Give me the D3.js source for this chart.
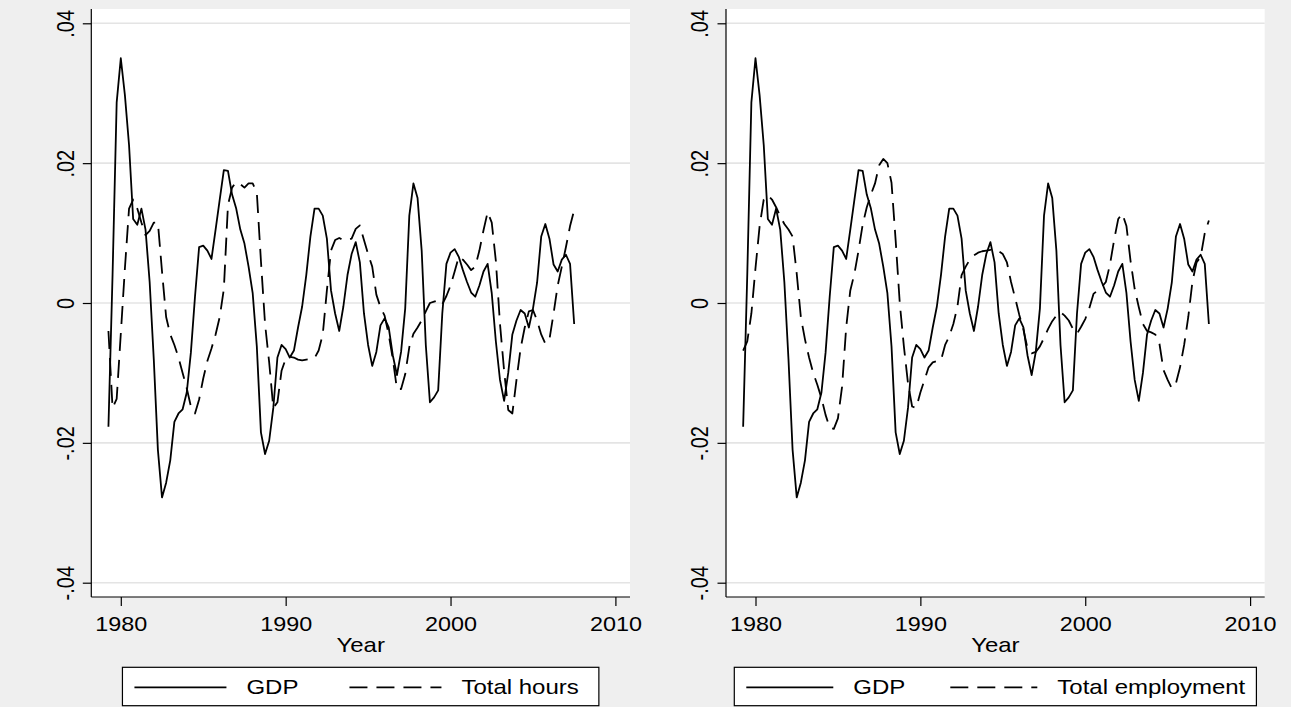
<!DOCTYPE html>
<html><head><meta charset="utf-8">
<script src="https://cdn.jsdelivr.net/npm/d3@7"></script>
<style>body{margin:0;background:#efefef;} svg{display:block;}</style>
</head><body>
<svg id="chart" width="1291" height="707"></svg>
<script>
// ---- data (quarterly) ----
const startYear = 1979.25;   // first quarter in the sample
const quarterStep = 0.25;
const gdp = [-0.0177,0.0040,0.0287,0.0350,0.0297,0.0226,0.0120,0.0112,0.0135,0.0105,
 0.0030,-0.0080,-0.0210,-0.0278,-0.0257,-0.0225,-0.0170,-0.0158,-0.0152,-0.0128,
 -0.0071,0.0009,0.0080,0.0082,0.0075,0.0063,0.0105,0.0148,0.0190,0.0189,
 0.0155,0.0135,0.0105,0.0085,0.0052,0.0014,-0.0062,-0.0185,-0.0216,-0.0197,
 -0.0150,-0.0078,-0.0060,-0.0066,-0.0078,-0.0068,-0.0035,-0.0005,0.0040,0.0095,
 0.0135,0.0135,0.0125,0.0092,0.0018,-0.0015,-0.0040,-0.0005,0.0040,0.0070,
 0.0087,0.0058,-0.0015,-0.0060,-0.0090,-0.0070,-0.0032,-0.0022,-0.0035,-0.0075,
 -0.0103,-0.0070,-0.0008,0.0125,0.0171,0.0150,0.0075,-0.0060,-0.0142,-0.0135,
 -0.0125,-0.0015,0.0056,0.0072,0.0077,0.0066,0.0047,0.0030,0.0015,0.0009,
 0.0025,0.0045,0.0056,0.0014,-0.0055,-0.0110,-0.0140,-0.0100,-0.0045,-0.0025,
 -0.0010,-0.0015,-0.0035,-0.0008,0.0029,0.0095,0.0113,0.0092,0.0055,0.0045,
 0.0062,0.0069,0.0056,-0.0030];
const hours = [-0.0040,-0.0150,-0.0137,-0.0044,0.0050,0.0135,0.0148,0.0135,0.0115,0.0097,
 0.0103,0.0115,0.0115,0.0045,-0.0020,-0.0045,-0.0060,-0.0078,-0.0100,-0.0122,
 -0.0148,-0.0158,-0.0138,-0.0108,-0.0083,-0.0065,-0.0045,-0.0020,0.0020,0.0140,
 0.0165,0.0173,0.0170,0.0165,0.0171,0.0171,0.0158,0.0060,-0.0030,-0.0085,
 -0.0150,-0.0142,-0.0097,-0.0080,-0.0077,-0.0078,-0.0081,-0.0082,-0.0081,-0.0080,
 -0.0079,-0.0068,-0.0045,0.0018,0.0075,0.0090,0.0093,0.0090,0.0090,0.0092,
 0.0106,0.0111,0.0090,0.0070,0.0052,0.0012,-0.0006,-0.0018,-0.0045,-0.0080,
 -0.0123,-0.0123,-0.0102,-0.0063,-0.0044,-0.0035,-0.0025,-0.0012,0.0000,0.0002,
 0.0004,-0.0002,0.0010,0.0025,0.0045,0.0066,0.0062,0.0055,0.0047,0.0052,
 0.0075,0.0104,0.0130,0.0115,0.0060,-0.0030,-0.0097,-0.0153,-0.0158,-0.0110,
 -0.0065,-0.0035,-0.0012,-0.0010,-0.0025,-0.0045,-0.0058,-0.0052,-0.0015,0.0025,
 0.0052,0.0080,0.0110,0.0133];
const employment = [-0.0068,-0.0055,-0.0015,0.0050,0.0110,0.0148,0.0154,0.0148,0.0137,0.0124,
 0.0113,0.0105,0.0095,0.0042,-0.0020,-0.0052,-0.0078,-0.0100,-0.0117,-0.0136,
 -0.0160,-0.0178,-0.0180,-0.0165,-0.0120,-0.0035,0.0018,0.0042,0.0075,0.0112,
 0.0137,0.0155,0.0171,0.0197,0.0206,0.0200,0.0172,0.0090,0.0000,-0.0062,
 -0.0115,-0.0148,-0.0150,-0.0128,-0.0110,-0.0092,-0.0085,-0.0083,-0.0082,-0.0060,
 -0.0048,-0.0030,-0.0005,0.0040,0.0052,0.0062,0.0068,0.0072,0.0074,0.0075,
 0.0076,0.0076,0.0074,0.0070,0.0058,0.0030,0.0007,-0.0017,-0.0038,-0.0065,
 -0.0072,-0.0070,-0.0062,-0.0050,-0.0037,-0.0026,-0.0018,-0.0013,-0.0018,-0.0025,
 -0.0037,-0.0044,-0.0034,-0.0023,-0.0007,0.0013,0.0018,0.0023,0.0030,0.0055,
 0.0090,0.0120,0.0128,0.0110,0.0060,0.0020,-0.0006,-0.0030,-0.0040,-0.0042,
 -0.0045,-0.0058,-0.0096,-0.0110,-0.0122,-0.0115,-0.0092,-0.0060,-0.0020,0.0030,
 0.0058,0.0066,0.0100,0.0118];
const yTicks = [-0.04, -0.02, 0, 0.02, 0.04];
const yTickLabels = ["-.04", "-.02", "0", ".02", ".04"];
const xTicks = [1980, 1990, 2000, 2010];
const xTitle = "Year";
const seriesNames = ["GDP", "Total hours", "Total employment"];

// ---- layout ----
const svg = d3.select("#chart");
const FONT = "'Liberation Sans', Arial, Helvetica, sans-serif";
const FS = 20, SX = 1.2;          // text is slightly stretched horizontally
const plotTop = 9, plotBottom = 597, plotW = 538.7;
const years = gdp.map((_, i) => startYear + i * quarterStep);

svg.append("rect").attr("width", 1291).attr("height", 707).attr("fill", "#efefef");

const panels = [
  {left: 91.3, other: hours, otherName: seriesNames[1], sample: 92, colGap: 51, padR: 20},
  {left: 726, other: employment, otherName: seriesNames[2], sample: 87, colGap: 45, padR: 11}
];

panels.forEach(p => {
  const L = p.left, R = L + plotW;
  const x = d3.scaleLinear().domain([1980, 2010]).range([L + 29.5, L + 29.5 + 494.6]);
  const y = d3.scaleLinear().domain([-0.04, 0.04]).range([582.7, 23.3]);
  const g = svg.append("g");

  g.append("rect").attr("x", L).attr("y", plotTop).attr("width", plotW)
    .attr("height", plotBottom - plotTop).attr("fill", "#ffffff");

  // grid
  g.append("g").selectAll("line").data(yTicks).join("line")
    .attr("x1", L).attr("x2", R).attr("y1", d => y(d)).attr("y2", d => y(d))
    .attr("stroke", "#e4e4e4").attr("stroke-width", 1.6);

  // series
  const line = vals => d3.line().x((d, i) => x(years[i])).y(d => y(d))(vals);
  g.append("path").attr("d", line(p.other)).attr("fill", "none")
    .attr("stroke", "#000").attr("stroke-width", 1.8).attr("stroke-dasharray", "18,9")
    .attr("stroke-linejoin", "round");
  g.append("path").attr("d", line(gdp)).attr("fill", "none")
    .attr("stroke", "#000").attr("stroke-width", 1.8).attr("stroke-linejoin", "round");

  // axes
  const ax = g.append("g").attr("transform", `translate(0,${plotBottom})`)
    .call(d3.axisBottom(x).tickValues(xTicks).tickSize(9).tickSizeOuter(0).tickFormat(d3.format("d")));
  ax.select(".domain").remove();
  ax.selectAll(".tick line").attr("stroke", "#000").attr("stroke-width", 1.2);
  ax.selectAll(".tick text").attr("y", null).attr("dy", null)
    .attr("transform", `translate(0,33.7) scale(1.17,1)`)
    .attr("font-family", FONT).attr("font-size", FS).attr("fill", "#000");

  const ay = g.append("g").attr("transform", `translate(${L},0)`)
    .call(d3.axisLeft(y).tickValues(yTicks).tickSize(8.5).tickSizeOuter(0)
      .tickFormat((d, i) => yTickLabels[i]));
  ay.select(".domain").remove();
  ay.selectAll(".tick line").attr("stroke", "#000").attr("stroke-width", 1.2);
  ay.selectAll(".tick text").attr("x", null).attr("dy", null)
    .attr("text-anchor", "middle")
    .attr("transform", `translate(-17.6,0) scale(1.17,1) rotate(-90)`)
    .attr("font-family", FONT).attr("font-size", FS).attr("fill", "#000");

  // axis lines
  g.append("line").attr("x1", L).attr("x2", L).attr("y1", plotTop).attr("y2", plotBottom)
    .attr("stroke", "#000").attr("stroke-width", 1.2);
  g.append("line").attr("x1", L).attr("x2", R).attr("y1", plotBottom).attr("y2", plotBottom)
    .attr("stroke", "#000").attr("stroke-width", 1.2);

  // axis title
  g.append("text").attr("transform", `translate(${(L + R) / 2},651.7) scale(${SX},1)`)
    .attr("text-anchor", "middle").attr("font-family", FONT).attr("font-size", FS).text(xTitle);

  // legend
  const lg = g.append("g");
  const items = [{name: seriesNames[0], dash: null}, {name: p.otherName, dash: "18,9"}];
  const pad = 12, gap = 20;
  const tmp = lg.append("text").attr("font-family", FONT).attr("font-size", FS);
  items.forEach(it => { tmp.text(it.name); it.w = tmp.node().getComputedTextLength() * SX; });
  tmp.remove();
  const totalW = pad + p.sample + gap + items[0].w + p.colGap + p.sample + gap + items[1].w + p.padR;
  const lx = (L + R) / 2 - totalW / 2;
  lg.append("rect").attr("x", lx).attr("y", 667.3).attr("width", totalW).attr("height", 38.4)
    .attr("fill", "#fff").attr("stroke", "#000").attr("stroke-width", 1.2);
  let cx = lx + pad;
  items.forEach(it => {
    lg.append("line").attr("x1", cx).attr("x2", cx + p.sample).attr("y1", 687.3).attr("y2", 687.3)
      .attr("stroke", "#000").attr("stroke-width", 1.8).attr("stroke-dasharray", it.dash);
    cx += p.sample + gap;
    lg.append("text").attr("transform", `translate(${cx},694.3) scale(${SX},1)`)
      .attr("font-family", FONT).attr("font-size", FS).text(it.name);
    cx += it.w + p.colGap;
  });
});
</script>
</body></html>
